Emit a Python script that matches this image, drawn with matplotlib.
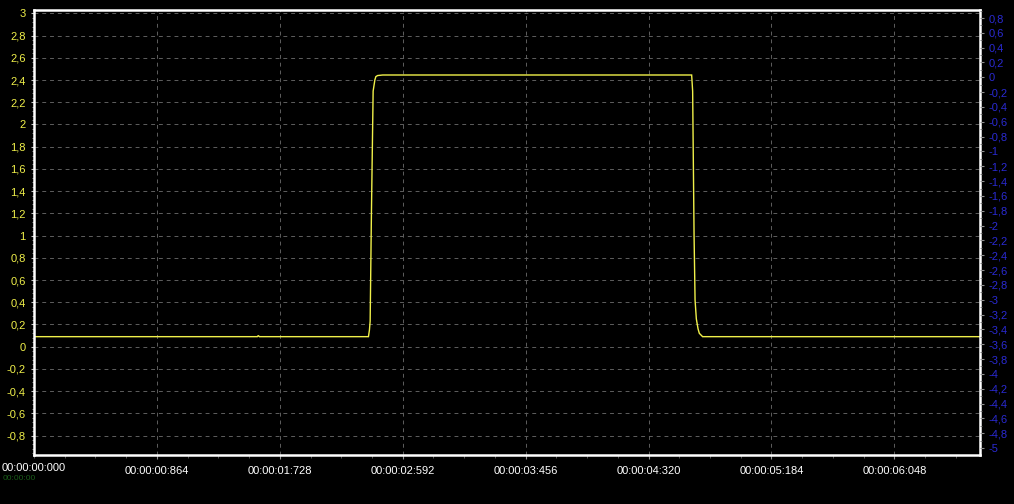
import numpy as np
import matplotlib.pyplot as plt
from matplotlib.ticker import MultipleLocator

# trace (time in s, value in V)
t_pts = [0.0, 1.570, 1.577, 1.584, 2.351, 2.358, 2.363, 2.372, 2.384, 2.396,
         2.403, 2.415, 2.451, 4.623, 4.630, 4.640, 4.647, 4.656, 4.668,
         4.677, 4.700, 6.65]
v_pts = [0.09, 0.09, 0.10, 0.09, 0.09, 0.15, 0.23, 1.20, 2.30, 2.40,
         2.43, 2.44, 2.445, 2.445, 2.30, 1.00, 0.42, 0.25, 0.16,
         0.12, 0.09, 0.09]

x_ticks = [0.864, 1.728, 2.592, 3.456, 4.320, 5.184, 6.048]
x_labels = ["00:00:00:864", "00:00:01:728", "00:00:02:592", "00:00:03:456",
            "00:00:04:320", "00:00:05:184", "00:00:06:048"]
left_ticks = np.round(np.arange(-0.8, 3.01, 0.2), 1)
right_ticks = np.round(np.arange(-5.0, 0.81, 0.2), 1)


def comma(v):
    s = ("%.1f" % v).rstrip("0").rstrip(".")
    if s in ("-0", ""):
        s = "0"
    return s.replace(".", ",")


plt.rcParams["font.family"] = ["Liberation Sans", "DejaVu Sans"]

bg = "#000000"
yellow = "#f0f04a"
blue = "#2a2ad2"
grid_c = "#5e5e5e"

fig = plt.figure(figsize=(10.14, 5.04), dpi=100, facecolor=bg)
ax = fig.add_axes([34 / 1014, 49 / 504, 946 / 1014, 445 / 504], facecolor=bg)

ax.plot(t_pts, v_pts, color=yellow, lw=1.0, solid_joinstyle="miter")

ax.set_xlim(0, 6.65)
ax.set_ylim(-0.975, 3.03)

ax.set_yticks(left_ticks)
ax.set_yticklabels([comma(v) for v in left_ticks])
ax.yaxis.set_minor_locator(MultipleLocator(0.04))
ax.set_xticks(x_ticks)
ax.set_xticklabels(x_labels)
ax.xaxis.set_minor_locator(MultipleLocator(0.216))

ax.tick_params(axis="y", which="major", colors="#c8c8c8", labelcolor=yellow,
               labelsize=8, length=2, width=0.8, pad=4)
ax.tick_params(axis="y", which="minor", colors="#a0a0a0", length=1.5, width=0.6)
ax.tick_params(axis="x", which="major", colors="#909090", labelcolor="white",
               labelsize=8, length=3, width=0.8, pad=5)
ax.tick_params(axis="x", which="minor", colors="#606060", length=2, width=0.6)

ax.grid(True, which="major", color=grid_c, linestyle=(0, (4, 4)), lw=0.7)

for s in ax.spines.values():
    s.set_color("white")
    s.set_linewidth(1.8)

ax2 = ax.twinx()
ax2.set_ylim(-5.094, 0.908)
ax2.set_yticks(right_ticks)
ax2.set_yticklabels([comma(v) for v in right_ticks])
ax2.yaxis.set_minor_locator(MultipleLocator(0.1))
ax2.tick_params(axis="y", which="major", colors="#909090", labelcolor=blue,
                labelsize=8, length=3, width=0.8, pad=3)
ax2.tick_params(axis="y", which="minor", colors="#707070", length=1.5, width=0.6)
for s in ax2.spines.values():
    s.set_visible(False)

# origin label sits at the figure's left edge, with a faint green caption under it
fig.text(2 / 1014, 1 - 468 / 504, "00:00:00:000", color="white", fontsize=8,
         va="center", ha="left")
fig.text(3 / 1014, 1 - 479 / 504, "00:00:00", color="#2a9a2a", fontsize=6,
         va="center", ha="left", alpha=0.6)

fig.savefig("out.png", dpi=100, facecolor=bg)
